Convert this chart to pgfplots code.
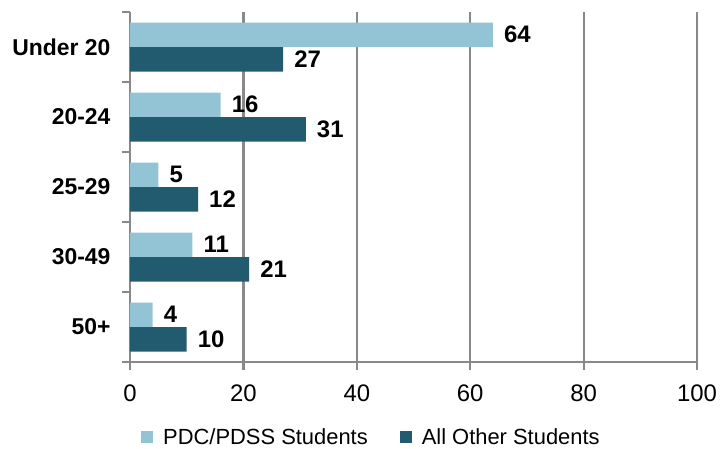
\documentclass[border=0pt]{standalone}
\usepackage{fontspec}
\setmainfont{Liberation Sans}
\usepackage{pgfplots}
\pgfplotsset{compat=1.18}
\definecolor{lightb}{RGB}{147,196,214}
\definecolor{darkb}{RGB}{34,90,112}
\definecolor{gridg}{RGB}{137,137,137}
\begin{document}
\begin{tikzpicture}
\begin{axis}[
 scale only axis, width=567bp, height=350bp,
 xbar, xmin=0, xmax=100, ymin=-0.5, ymax=4.5, y dir=reverse,
 axis x line*=bottom, axis y line*=left,
 axis line style={gridg, line width=2.2bp},
 xtick={0,20,...,100}, xmajorgrids, major grid style={gridg, line width=2.2bp},
 ytick={0,...,4}, yticklabels={Under 20,20-24,25-29,30-49,50+},
 minor ytick={-0.5,0.5,...,4.5},
 tick align=outside,
 major tick length=8bp, minor tick length=8bp,
 major x tick style={gridg, line width=2.2bp},
 major y tick style={draw=none},
 minor y tick style={gridg, line width=2.2bp},
 yticklabel style={font=\fontsize{23}{27}\selectfont\bfseries, xshift=-8bp},
 xticklabel style={font=\fontsize{24}{28}\selectfont, yshift=-11bp},
 /pgf/number format/assume math mode=true,
 nodes near coords, nodes near coords align=horizontal,
 every node near coord/.append style={font=\fontsize{24}{28}\selectfont\bfseries, black, anchor=west, inner sep=0pt, xshift=11bp},
 legend style={at={(0.424,-0.215)}, anchor=center, draw=none, legend columns=2,
   font=\fontsize{22}{26}\selectfont, inner sep=0pt,
   nodes={inner sep=0pt},
   /tikz/every odd column/.append style={column sep=10bp},
   /tikz/every even column/.append style={column sep=32bp}},
 legend image code/.code={\fill[#1,draw=none] (0bp,-6bp) rectangle (12bp,6bp);},
]
\addplot[fill=lightb, draw=none, bar width=0.35, bar shift=-0.175] coordinates {(64,0) (16,1) (5,2) (11,3) (4,4)};
\addplot[fill=darkb, draw=none, bar width=0.35, bar shift=0.175] coordinates {(27,0) (31,1) (12,2) (21,3) (10,4)};
\legend{PDC/PDSS Students, All Other Students}
\end{axis}
\pgfresetboundingbox
\path[use as bounding box] ([shift={(-130bp,-87bp)}]current axis.south west) rectangle ([shift={(28bp,12bp)}]current axis.north east);
\end{tikzpicture}
\end{document}
